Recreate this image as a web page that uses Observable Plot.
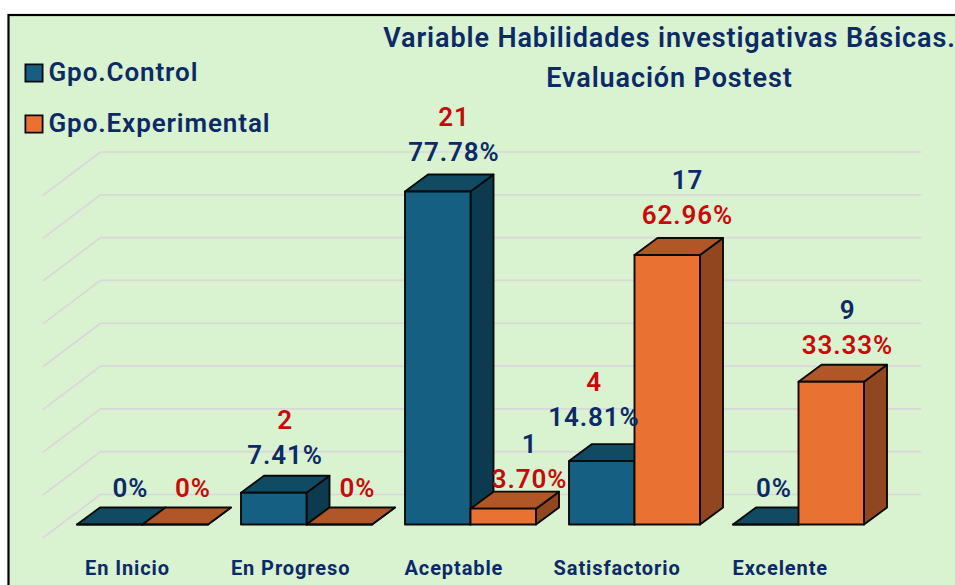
<!DOCTYPE html>
<html>
<head>
<meta charset="utf-8">
<script src="https://cdn.jsdelivr.net/npm/d3@7"></script>
<script src="https://cdn.jsdelivr.net/npm/@observablehq/plot@0.6"></script>
<style>
html,body{margin:0;padding:0;background:#fff;overflow:hidden}
svg{display:block}
</style>
</head>
<body>
<div id="chart"></div>
<script>
const categories = ["En Inicio", "En Progreso", "Aceptable", "Satisfactorio", "Excelente"];
const controlCounts = [0, 2, 21, 4, 0];
const experimentalCounts = [0, 0, 1, 17, 9];
const controlPercent = [0, 7.41, 77.78, 14.81, 0];
const experimentalPercent = [0, 0, 3.70, 62.96, 33.33];
const gridLevels = [0, 10, 20, 30, 40, 50, 60, 70, 80];
const titleLines = ["Variable Habilidades investigativas Básicas.", "Evaluación Postest"];
const legendNames = ["Gpo.Control", "Gpo.Experimental"];

// Layout: px per data unit, and how the 3D projection shifts things
const W = 955, H = 585, MB = 28;
const pxU = 164, pxV = 333 / 77.78;      // px per group, px per percentage point
const x0 = 76.5, y0 = 524;               // pixel of group 0 bar foot, value 0
const bw = 65.5 / pxU, dX = 23 / pxU, dY = 17 / pxV;
const wallX0 = (43 - x0) / pxU, wallX1 = (100 - x0) / pxU, wallX2 = (920 - x0) / pxU;
const wallBack = 30 / pxV, wallFront = -13 / pxV;

const NAVY = "#0b2a67", RED = "#c80a0a";
const palette = [
  {front: "#156082", top: "#104a63", side: "#0c3b50"},
  {front: "#e97132", top: "#b05627", side: "#91461f"}
];
const series = [
  {values: controlPercent, counts: controlCounts, offset: 0, pctColor: NAVY, countColor: RED},
  {values: experimentalPercent, counts: experimentalCounts, offset: bw, pctColor: RED, countColor: NAVY}
];

// faces of every bar, back to front
const faces = [];
function face(id, fill, pts) {
  [...pts, pts[0]].forEach(([x, y]) => faces.push({id, fill, x, y}));
}
categories.forEach((c, i) => {
  series.forEach((s, j) => {
    const l = i + s.offset, r = l + bw, v = s.values[i], p = palette[j], id = `${i}-${j}`;
    face(id + "s", p.side, [[r, 0], [r + dX, dY], [r + dX, v + dY], [r, v]]);
    face(id + "t", p.top, [[l, v], [r, v], [r + dX, v + dY], [l + dX, v + dY]]);
    face(id + "f", p.front, [[l, 0], [r, 0], [r, v], [l, v]]);
  });
});

const grid = gridLevels.flatMap(g => [
  {g, x: wallX0, y: g + wallFront},
  {g, x: wallX1, y: g + wallBack},
  {g, x: wallX2, y: g + wallBack}
]);

// per-label pixel nudges from the default place above each bar
const nudges = [
  [[3.5, 1], [-6, 0], [-1, -2], [-25, -6], [-9, 1]],
  [[0.5, 1], [1, 1], [9, 8], [3, -2], [-1, 1]]
];
const labels = [];
categories.forEach((c, i) => {
  series.forEach((s, j) => {
    const [nx, ny] = nudges[j][i];
    const x = i + s.offset + 50 / pxU + nx / pxU;
    const y = s.values[i] + dY + 20 / pxV - ny / pxV;
    labels.push({x, y, text: s.values[i] > 0 ? s.values[i].toFixed(2) + "%" : "0%", color: s.pctColor, up: 0});
    if (s.counts[i] > 0) labels.push({x, y, text: String(s.counts[i]), color: s.countColor, up: 35});
  });
});
const pctLabels = labels.filter(d => d.up === 0);
const countLabels = labels.filter(d => d.up > 0);

const FONT = "Roboto, sans-serif";
const textAt = (rows, dx, dy, extra) => Plot.text(rows, {
  frameAnchor: "top-left", dx, dy, text: d => d, lineAnchor: "middle",
  fontSize: 26, fontWeight: 600, fill: NAVY, ...extra
});
const plot = Plot.plot({
  width: W, height: H,
  marginTop: 0, marginRight: 0, marginLeft: 0, marginBottom: MB,
  style: {fontFamily: FONT, background: "#fff", overflow: "visible", letterSpacing: "0.9px"},
  x: {domain: [-x0 / pxU, (W - x0) / pxU], axis: null},
  y: {domain: [-(H - MB - y0) / pxV, y0 / pxV], axis: null},
  color: {type: "identity"},
  marks: [
    Plot.frame({fill: "#d9f2d0", stroke: "#000", strokeWidth: 2.2,
      insetLeft: 8, insetTop: 14.5, insetRight: -6, insetBottom: -MB - 6}),
    Plot.line(grid, {x: "x", y: "y", z: "g", stroke: "#dcd6dc", strokeWidth: 1.7}),
    Plot.line(faces, {x: "x", y: "y", z: "id", fill: "fill", stroke: "#0a0a0a", strokeWidth: 1.9, strokeLinejoin: "round"}),
    Plot.text(pctLabels, {x: "x", y: "y", text: "text", fill: "color", fontSize: 26, fontWeight: 600}),
    Plot.text(countLabels, {x: "x", y: "y", text: "text", fill: "color", fontSize: 26, fontWeight: 600, dy: -35}),
    Plot.axisX(categories.map((c, i) => i * 163.2 / 164), {
      anchor: "bottom", tickSize: 0, tickPadding: 0, dx: 50.5, dy: 3,
      tickFormat: u => categories[Math.round(u)], fontSize: 20, fontWeight: 700, fill: NAVY, label: null
    }),
    textAt(titleLines.slice(0, 1), 669, 38, {textAnchor: "middle", fontSize: 27}),
    textAt(titleLines.slice(1), 669, 78, {textAnchor: "middle", fontSize: 27}),
    Plot.dot(legendNames.slice(0, 1), {frameAnchor: "top-left", dx: 33.5, dy: 72.5, symbol: "square", r: 9.7, fill: palette[0].front, stroke: "#0a0a0a", strokeWidth: 1.8}),
    Plot.dot(legendNames.slice(1), {frameAnchor: "top-left", dx: 33.5, dy: 123.5, symbol: "square", r: 9.7, fill: palette[1].front, stroke: "#0a0a0a", strokeWidth: 1.8}),
    textAt(legendNames.slice(0, 1), 48, 72, {textAnchor: "start"}),
    textAt(legendNames.slice(1), 48, 123, {textAnchor: "start"})
  ]
});
document.getElementById("chart").appendChild(plot);
</script>
</body>
</html>
